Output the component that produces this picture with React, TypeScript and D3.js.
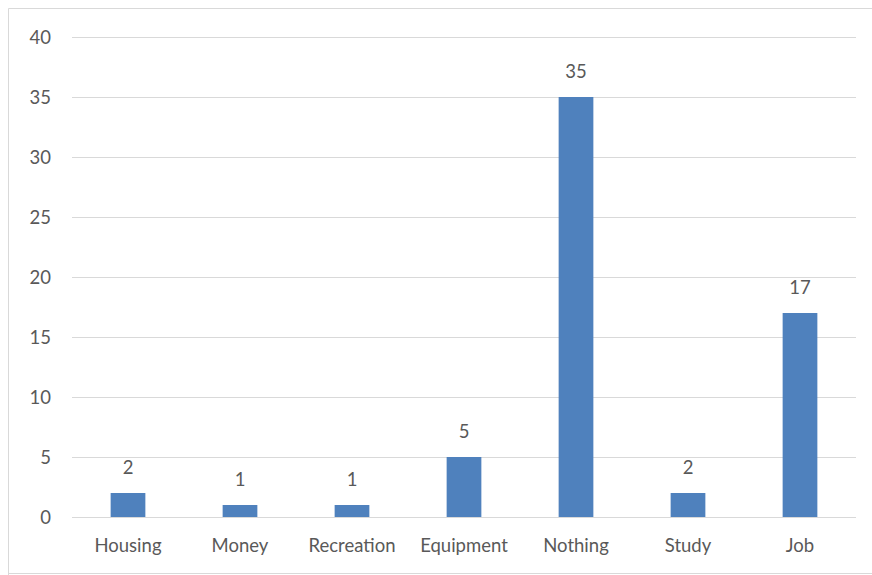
import React from "react";
import * as d3 from "d3";

const categories = ["Housing", "Money", "Recreation", "Equipment", "Nothing", "Study", "Job"];
const values = [2, 1, 1, 5, 35, 2, 17];
const yTicks = [0, 5, 10, 15, 20, 25, 30, 35, 40];

const W = 872;
const H = 575;
const plot = { left: 72, right: 856, top: 37, bottom: 517 };
const FONT = "Lato, 'Open Sans', sans-serif";
const TEXT = "#595959";
const FS = 18.5;

export default function App() {
  const x = d3
    .scaleBand<string>()
    .domain(categories)
    .range([plot.left, plot.right])
    .paddingInner(0.69)
    .paddingOuter(0.345);
  const y = d3.scaleLinear().domain([0, 40]).range([plot.bottom, plot.top]);

  return (
    <svg
      width={W}
      height={H}
      style={{ position: "absolute", left: 0, top: 0, display: "block" }}
      fontFamily={FONT}
    >
      <rect x={0} y={0} width={W} height={H} fill="#fff" />
      {/* chart frame */}
      <path d={`M8.5,${H} V8.5 H${W}`} fill="none" stroke="#d9d9d9" strokeWidth={1} />
      <line x1={8} x2={W} y1={573.5} y2={573.5} stroke="#d9d9d9" />

      {yTicks.map((t) => (
        <g key={t}>
          <line
            x1={plot.left}
            x2={plot.right}
            y1={Math.round(y(t)) + 0.5}
            y2={Math.round(y(t)) + 0.5}
            stroke="#d9d9d9"
            strokeWidth={1}
          />
          <text
            x={51}
            y={y(t)}
            dy="0.36em"
            textAnchor="end"
            fontSize={FS}
            fill={TEXT}
          >
            {t}
          </text>
        </g>
      ))}

      {categories.map((c, i) => {
        const bx = x(c)!;
        const bw = x.bandwidth();
        const top = y(values[i]);
        return (
          <g key={c}>
            <rect x={bx} y={top} width={bw} height={plot.bottom - top} fill="#4f81bd" />
            <text
              x={bx + bw / 2}
              y={top - 19}
              textAnchor="middle"
              fontSize={FS}
              fill={TEXT}
            >
              {values[i]}
            </text>
            <text
              x={bx + bw / 2}
              y={552}
              textAnchor="middle"
              fontSize={FS}
              fill={TEXT}
            >
              {c}
            </text>
          </g>
        );
      })}
    </svg>
  );
}
